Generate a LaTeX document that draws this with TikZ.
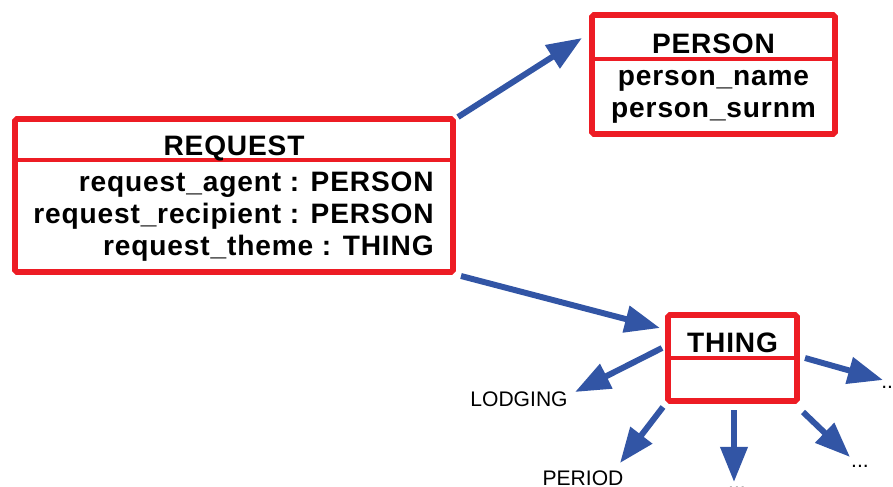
\documentclass[tikz,border=0pt]{standalone}
\usepackage{fontspec}
\setmainfont{Liberation Sans}
\newfontfamily\boxfont[LetterSpace=3]{Liberation Sans}
\usetikzlibrary{arrows.meta}

\definecolor{boxred}{RGB}{237,28,36}
\definecolor{linkblue}{RGB}{50,85,165}

\tikzset{
  classbox/.style={draw=boxred, line width=3.2pt, rounded corners=1pt, inner sep=0pt},
  divider/.style={draw=boxred, line width=2.8pt},
  boxtitle/.style={font=\boxfont\fontsize{16}{19}\selectfont\bfseries, inner sep=0pt, anchor=base},
  attr/.style={font=\boxfont\fontsize{16}{19}\selectfont\bfseries, inner sep=0pt},
  subname/.style={font=\fontsize{12}{14}\selectfont, inner sep=0pt, anchor=base},
  link/.style={draw=linkblue, line width=3.4pt, -{Triangle[length=20pt,width=15pt]}}
}

\begin{document}
\begin{tikzpicture}[x=0.02cm, y=-0.02cm]

    % Page frame (pixel grid of the reference)
    \useasboundingbox (0,0) rectangle (893,487);

    % The three class boxes
    \node[classbox, minimum width=8.76cm, minimum height=3.06cm] (request) at (234,195.5) {};
    \node[classbox, minimum width=4.86cm, minimum height=2.38cm] (person) at (713.5,74.5) {};
    \node[classbox, minimum width=2.58cm, minimum height=1.72cm] (thing) at (732.5,358) {};

    % Lines under the class names
    \draw[divider] (15,160) -- (453,160);
    \draw[divider] (592,59) -- (835,59);
    \draw[divider] (668,358) -- (797,358);

    % Class names
    \node[boxtitle] (request-title) at (234,155) {REQUEST};
    \node[boxtitle] (person-title) at (713.5,53) {PERSON};
    \node[boxtitle] (thing-title) at (732.5,352) {THING};

    % Attributes of REQUEST (right aligned)
    \node[attr, anchor=base east] (req-agent) at (434,191) {request\_agent : PERSON};
    \node[attr, anchor=base east] (req-recip) at (434,223) {request\_recipient : PERSON};
    \node[attr, anchor=base east] (req-theme) at (434,255) {request\_theme : THING};

    % Attributes of PERSON (centred)
    \node[attr, anchor=base] (per-name) at (713.5,85) {person\_name};
    \node[attr, anchor=base] (per-surnm) at (713.5,117) {person\_surnm};

    % Subclasses of THING
    \node[subname] (lodging) at (519,406) {LODGING};
    \node[subname] (period) at (583,485) {PERIOD};
    \node[subname] (more-s) at (737,489) {...};
    \node[subname] (more-se) at (860,467) {...};
    \node[subname, anchor=base west] (more-e) at (881,388) {...};

    % Arrow ends
    \coordinate (req-out-p) at (458,117);
    \coordinate (per-in) at (582,38);
    \coordinate (req-out-t) at (461,276);
    \coordinate (thing-in) at (660,328);
    \coordinate (thing-out-w) at (662,348);
    \coordinate (lodging-in) at (575,392);
    \coordinate (thing-out-sw) at (663,407);
    \coordinate (period-in) at (620,463);
    \coordinate (thing-out-s) at (734,410);
    \coordinate (more-s-in) at (734,482);
    \coordinate (thing-out-se) at (803,412);
    \coordinate (more-se-in) at (850,457);
    \coordinate (thing-out-e) at (805,358);
    \coordinate (more-e-in) at (883,380);

    % Links
    \draw[link] (req-out-p) -- (per-in);
    \draw[link] (req-out-t) -- (thing-in);
    \draw[link] (thing-out-w) -- (lodging-in);
    \draw[link] (thing-out-sw) -- (period-in);
    \draw[link] (thing-out-s) -- (more-s-in);
    \draw[link] (thing-out-se) -- (more-se-in);
    \draw[link] (thing-out-e) -- (more-e-in);

\end{tikzpicture}
\end{document}
